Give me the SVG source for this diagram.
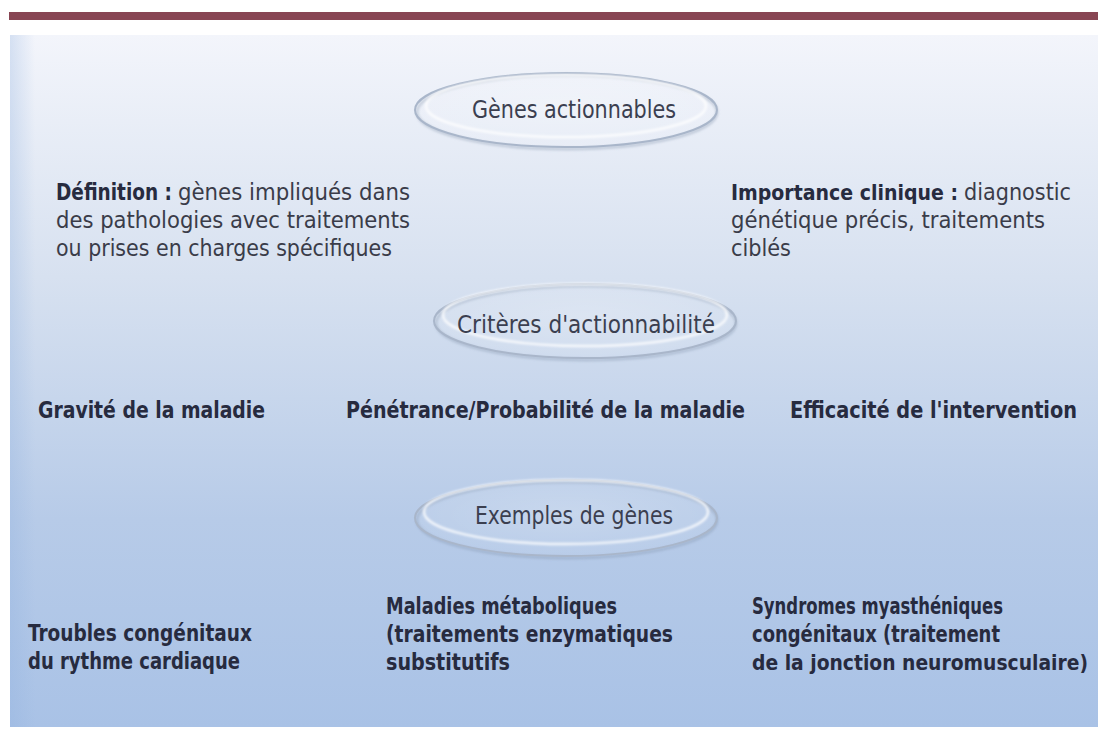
<svg xmlns="http://www.w3.org/2000/svg" width="1098" height="740" viewBox="0 0 1098 740">
<defs>
<linearGradient id="bg" x1="0" y1="0" x2="0" y2="1">
<stop offset="0" stop-color="#f3f5fb"/>
<stop offset="0.35" stop-color="#d7e1f0"/>
<stop offset="0.7" stop-color="#b7cbe8"/>
<stop offset="1" stop-color="#a9c2e6"/>
</linearGradient>
<linearGradient id="edge" x1="0" y1="0" x2="1" y2="0">
<stop offset="0" stop-color="#8fb0de" stop-opacity="0.3"/>
<stop offset="1" stop-color="#8fb0de" stop-opacity="0"/>
</linearGradient>
<radialGradient id="ellFill" cx="0.5" cy="0.45" r="0.6">
<stop offset="0" stop-color="#ffffff" stop-opacity="0.22"/>
<stop offset="1" stop-color="#ffffff" stop-opacity="0.04"/>
</radialGradient>
<filter id="soft" x="-10%" y="-20%" width="120%" height="150%">
<feGaussianBlur stdDeviation="1.2"/>
</filter>
<style>
.t{font-family:"DejaVu Sans Condensed","Noto Sans","Liberation Sans",sans-serif;font-size:23px;fill:#3a3c49;}
.b{font-weight:bold;fill:#272b3f;}
.sm{font-size:21px;}
.title{font-family:"DejaVu Sans Condensed","Noto Sans","Liberation Sans",sans-serif;font-size:24px;fill:#3b3f50;}
.ell{fill:url(#ellFill);stroke:#a9b6ca;stroke-width:2;}
.hl{fill:none;stroke:#ffffff;stroke-width:2.5;stroke-opacity:0.8;filter:url(#soft);}
.sh{fill:none;stroke:#7e8ea8;stroke-width:3;stroke-opacity:0.35;filter:url(#soft);}
</style>
</defs>
<rect x="0" y="0" width="1098" height="740" fill="#ffffff"/>
<rect x="9" y="12" width="1089" height="8" fill="#884553"/>
<rect x="10" y="35" width="1088" height="692" fill="url(#bg)"/>
<rect x="10" y="35" width="25" height="692" fill="url(#edge)"/>

<g id="node-genes">
<ellipse class="sh" cx="567" cy="112" rx="150" ry="37"/>
<ellipse class="ell" cx="566" cy="110" rx="151" ry="37"/>
<ellipse class="hl" cx="566" cy="106" rx="140" ry="31"/>
<text class="title" x="472" y="118" textLength="204" lengthAdjust="spacingAndGlyphs">Gènes actionnables</text>
</g>

<g id="node-definition">
<text class="t b" x="56" y="200" textLength="116" lengthAdjust="spacingAndGlyphs">Définition :</text>
<text class="t" x="178" y="200" textLength="232" lengthAdjust="spacingAndGlyphs">gènes impliqués dans</text>
<text class="t" x="56" y="228" textLength="354" lengthAdjust="spacingAndGlyphs">des pathologies avec traitements</text>
<text class="t" x="56" y="256" textLength="336" lengthAdjust="spacingAndGlyphs">ou prises en charges spécifiques</text>
</g>

<g id="node-importance">
<text class="t b sm" x="731" y="200" textLength="227" lengthAdjust="spacingAndGlyphs">Importance clinique :</text>
<text class="t" x="964" y="200" textLength="107" lengthAdjust="spacingAndGlyphs">diagnostic</text>
<text class="t" x="731" y="228" textLength="314" lengthAdjust="spacingAndGlyphs">génétique précis, traitements</text>
<text class="t" x="731" y="256" textLength="60" lengthAdjust="spacingAndGlyphs">ciblés</text>
</g>

<g id="node-criteres">
<ellipse class="sh" cx="586" cy="323" rx="150" ry="37"/>
<ellipse class="ell" cx="585" cy="321" rx="151" ry="37"/>
<ellipse class="hl" cx="585" cy="315" rx="142" ry="31"/>
<text class="title" x="457" y="333" textLength="258" lengthAdjust="spacingAndGlyphs">Critères d'actionnabilité</text>
</g>

<g id="node-gravite">
<text class="t b" x="38" y="418" textLength="227" lengthAdjust="spacingAndGlyphs">Gravité de la maladie</text>
</g>
<g id="node-penetrance">
<text class="t b" x="346" y="418" textLength="399" lengthAdjust="spacingAndGlyphs">Pénétrance/Probabilité de la maladie</text>
</g>
<g id="node-efficacite">
<text class="t b" x="790" y="418" textLength="287" lengthAdjust="spacingAndGlyphs">Efficacité de l'intervention</text>
</g>

<g id="node-exemples">
<ellipse class="sh" cx="567" cy="520" rx="150" ry="38"/>
<ellipse class="ell" cx="566" cy="518" rx="151" ry="38"/>
<ellipse class="hl" cx="566" cy="512" rx="142" ry="32"/>
<text class="title" x="475" y="524" textLength="198" lengthAdjust="spacingAndGlyphs">Exemples de gènes</text>
</g>

<g id="node-troubles">
<text class="t b" x="28" y="641" textLength="224" lengthAdjust="spacingAndGlyphs">Troubles congénitaux</text>
<text class="t b" x="28" y="669" textLength="212" lengthAdjust="spacingAndGlyphs">du rythme cardiaque</text>
</g>
<g id="node-maladies">
<text class="t b" x="386" y="614" textLength="231" lengthAdjust="spacingAndGlyphs">Maladies métaboliques</text>
<text class="t b" x="386" y="642" textLength="287" lengthAdjust="spacingAndGlyphs">(traitements enzymatiques</text>
<text class="t b" x="386" y="670" textLength="124" lengthAdjust="spacingAndGlyphs">substitutifs</text>
</g>
<g id="node-syndromes">
<text class="t b" x="752" y="614" textLength="251" lengthAdjust="spacingAndGlyphs">Syndromes myasthéniques</text>
<text class="t b" x="752" y="642" textLength="248" lengthAdjust="spacingAndGlyphs">congénitaux (traitement</text>
<text class="t b sm" x="752" y="670" textLength="336" lengthAdjust="spacingAndGlyphs">de la jonction neuromusculaire)</text>
</g>
<g id="connectors"></g>
</svg>
